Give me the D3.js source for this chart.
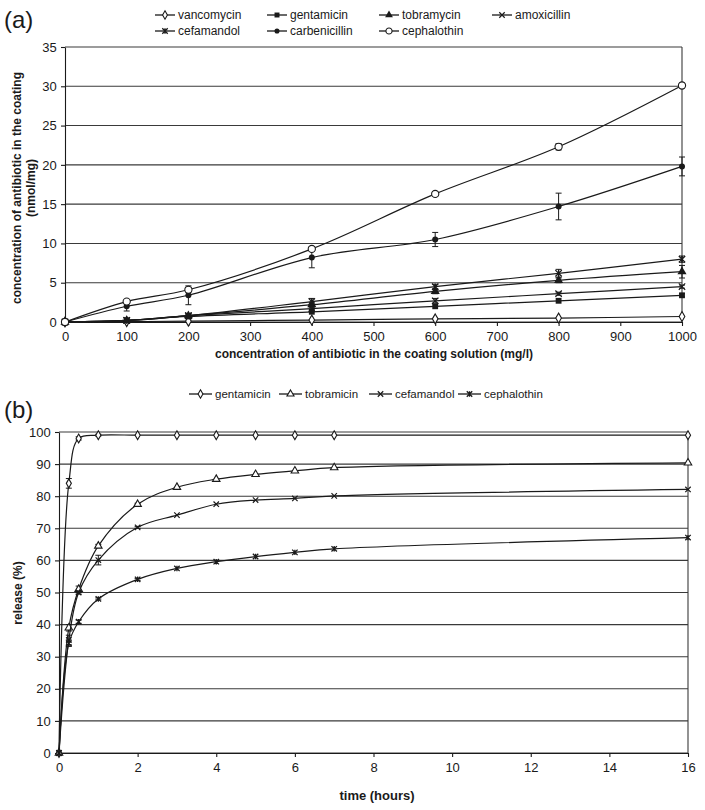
<!DOCTYPE html>
<html><head><meta charset="utf-8">
<script src="https://cdn.jsdelivr.net/npm/d3@7"></script>
<style>body{margin:0;background:#fff}svg{display:block}</style>
</head><body>
<svg id="c" width="705" height="810"></svg>
<script>
// ---------- Panel (a) data ----------
const concA = [0, 100, 200, 400, 600, 800, 1000];
const vancomycin   = [0, 0.05, 0.1, 0.25, 0.4, 0.5, 0.7];
const gentamicinA  = [0, 0.2, 0.7, 1.3, 2.0, 2.7, 3.4];
const tobramycinA  = [0, 0.2, 0.8, 2.2, 3.9, 5.3, 6.4];
const amoxicillin  = [0, 0.2, 0.8, 1.7, 2.7, 3.6, 4.5];
const cefamandolA  = [0, 0.2, 0.8, 2.6, 4.5, 6.2, 8.0];
const carbenicillin= [0, 2.0, 3.4, 8.2, 10.5, 14.7, 19.8];
const cephalothinA = [0, 2.6, 4.1, 9.3, 16.3, 22.3, 30.1];
const errVanco = [0, 0, 0, 0, 0.1, 0.1, 0.1];
const errGenta = [0, 0.05, 0.1, 0.1, 0.1, 0.15, 0.2];
const errTobra = [0, 0.1, 0.1, 0.3, 0.3, 0.3, 0.8];
const errAmoxi = [0, 0.05, 0.1, 0.2, 0.3, 0.2, 0.2];
const errCefaA = [0, 0.1, 0.2, 0.4, 0.3, 0.5, 0.4];
const errCarbe = [0, 0.6, 1.2, 1.3, 0.9, 1.7, 1.2];
const errCephA = [0, 0.2, 0.3, 0.3, 0.3, 0.4, 0.3];
const yTicksA = [0, 5, 10, 15, 20, 25, 30, 35];
const xTicksA = [0, 100, 200, 300, 400, 500, 600, 700, 800, 900, 1000];

// ---------- Panel (b) data ----------
const timeB = [0, 0.25, 0.5, 1, 2, 3, 4, 5, 6, 7, 16];
const gentamicinB = [0, 84, 98, 99, 99, 99, 99, 99, 99, 99, 99];
const tobramicinB = [0, 39, 51, 64.5, 77.5, 82.8, 85.3, 86.8, 87.9, 88.9, 90.4];
const cefamandolB = [0, 35.2, 50, 60.1, 70.3, 74.1, 77.5, 78.8, 79.3, 80.1, 82.1];
const cephalothinB= [0, 34.2, 40.9, 48, 54.1, 57.5, 59.6, 61.2, 62.5, 63.6, 67.1];
const errGentaB = [0, 1.5, 0.5, 0.3, 0, 0, 0, 0, 0, 0, 0];
const errTobraB = [0, 1, 1, 0.5, 0.3, 0, 0, 0, 0, 0, 0];
const errCefaB  = [0, 1.5, 0.5, 1.5, 0.3, 0, 0, 0, 0, 0, 0];
const errCephB  = [0, 1, 0.5, 0.3, 0.3, 0, 0, 0, 0, 0, 0];
const yTicksB = [0, 10, 20, 30, 40, 50, 60, 70, 80, 90, 100];
const xTicksB = [0, 2, 4, 6, 8, 10, 12, 14, 16];

const svg = d3.select("#c");
const INK = "#1a1a1a";
const tickFont = "'Liberation Sans Narrow','Arial Narrow','Liberation Sans',Arial,sans-serif";
const regFont = "'Liberation Sans',Arial,sans-serif";

function marker(g, type, x, y, s) {
  s = s || 1;
  const m = g.append("g").attr("transform", `translate(${x},${y})`);
  const r = 3.2 * s;
  switch (type) {
    case "diamondOpen":
      m.append("path").attr("d", d3.symbol(d3.symbolDiamond, 28 * s * s)()).attr("fill", "#fff").attr("stroke", INK).attr("stroke-width", 1.1); break;
    case "square":
      m.append("path").attr("d", d3.symbol(d3.symbolSquare, 34 * s * s)()).attr("fill", INK); break;
    case "triangle":
      m.append("path").attr("d", d3.symbol(d3.symbolTriangle, 36 * s * s)()).attr("fill", INK); break;
    case "triangleOpen":
      m.append("path").attr("d", d3.symbol(d3.symbolTriangle, 30 * s * s)()).attr("fill", "#fff").attr("stroke", INK).attr("stroke-width", 1.1); break;
    case "x":
      m.append("path").attr("d", `M${-r},${-r}L${r},${r}M${-r},${r}L${r},${-r}`).attr("stroke", INK).attr("stroke-width", 1.2).attr("fill", "none"); break;
    case "star":
      m.append("path").attr("d", `M${-r},${-r}L${r},${r}M${-r},${r}L${r},${-r}M0,${-r}L0,${r}`).attr("stroke", INK).attr("stroke-width", 1.3).attr("fill", "none"); break;
    case "circle":
      m.append("circle").attr("r", 3 * s).attr("fill", INK); break;
    case "circleOpen":
      m.append("circle").attr("r", 3.6 * s).attr("fill", "#fff").attr("stroke", INK).attr("stroke-width", 1.1); break;
  }
}

function drawPanel(cfg) {
  const { x, y, xTicks, yTicks, series, xt } = cfg;
  const g = svg.append("g");
  const [x0, x1] = x.range();
  const [y0, y1] = y.range();
  g.append("g").selectAll("line").data(yTicks).join("line")
    .attr("x1", x0).attr("x2", x1).attr("y1", d => y(d)).attr("y2", d => y(d))
    .attr("stroke", "#3a3a3a").attr("stroke-width", 1.1);
  g.append("line").attr("x1", x1).attr("x2", x1).attr("y1", y0).attr("y2", y1).attr("stroke", "#3a3a3a").attr("stroke-width", 1.1);
  const ax = g.append("g").attr("transform", `translate(0,${y0})`)
    .call(d3.axisBottom(x).tickValues(xTicks).tickSize(4).tickSizeOuter(0).tickFormat(d3.format("d")));
  const ay = g.append("g").attr("transform", `translate(${x0},0)`)
    .call(d3.axisLeft(y).tickValues(yTicks).tickSize(4).tickSizeOuter(0).tickFormat(d3.format("d")));
  [ax, ay].forEach(a => {
    a.selectAll("path,line").attr("stroke", INK).attr("stroke-width", 1.1);
    a.selectAll("text").attr("font-family", tickFont).attr("font-size", 13).attr("fill", INK);
  });
  ax.selectAll("text").attr("dy", "0.95em");
  ay.selectAll("text").attr("dx", "-0.1em");
  series.forEach(s => {
    const pts = xt.map((t, i) => [t, s.v[i], s.e ? s.e[i] : 0]);
    const line = d3.line().x(d => x(d[0])).y(d => y(d[1])).curve(d3.curveCatmullRom.alpha(0.5));
    g.append("path").attr("d", line(pts)).attr("fill", "none").attr("stroke", INK).attr("stroke-width", 1.2);
    pts.forEach(d => {
      if (d[2] > 0.15) {
        const px = x(d[0]), ya = y(d[1] - d[2]), yb = y(d[1] + d[2]);
        g.append("path").attr("d", `M${px},${ya}L${px},${yb}M${px - 3},${ya}L${px + 3},${ya}M${px - 3},${yb}L${px + 3},${yb}`)
          .attr("stroke", INK).attr("stroke-width", 1).attr("fill", "none");
      }
    });
    pts.forEach(d => marker(g, s.m, x(d[0]), y(d[1]), s.size));
  });
}

// Panel (a)
const xA = d3.scaleLinear().domain([0, 1000]).range([65, 682]);
const yA = d3.scaleLinear().domain([0, 35]).range([322, 47]);
const seriesA = [
  { name: "vancomycin", v: vancomycin, e: errVanco, m: "diamondOpen" },
  { name: "gentamicin", v: gentamicinA, e: errGenta, m: "square" },
  { name: "tobramycin", v: tobramycinA, e: errTobra, m: "triangle" },
  { name: "amoxicillin", v: amoxicillin, e: errAmoxi, m: "x" },
  { name: "cefamandol", v: cefamandolA, e: errCefaA, m: "star" },
  { name: "carbenicillin", v: carbenicillin, e: errCarbe, m: "circle" },
  { name: "cephalothin", v: cephalothinA, e: errCephA, m: "circleOpen" }
];
drawPanel({ x: xA, y: yA, xTicks: xTicksA, yTicks: yTicksA, series: seriesA, xt: concA });

// Panel (b)
const xB = d3.scaleLinear().domain([0, 16]).range([59, 688]);
const yB = d3.scaleLinear().domain([0, 100]).range([753, 432]);
const seriesB = [
  { name: "gentamicin", v: gentamicinB, e: errGentaB, m: "diamondOpen", size: 0.9 },
  { name: "tobramicin", v: tobramicinB, e: errTobraB, m: "triangleOpen", size: 0.9 },
  { name: "cefamandol", v: cefamandolB, e: errCefaB, m: "x", size: 0.85 },
  { name: "cephalothin", v: cephalothinB, e: errCephB, m: "star", size: 0.85 }
];
drawPanel({ x: xB, y: yB, xTicks: xTicksB, yTicks: yTicksB, series: seriesB, xt: timeB });

// Legends
function legendItem(x, y, s, lineLen, fs) {
  const g = svg.append("g");
  g.append("line").attr("x1", x).attr("x2", x + lineLen).attr("y1", y).attr("y2", y).attr("stroke", INK).attr("stroke-width", 1.3);
  marker(g, s.m, x + lineLen / 2, y, 0.85);
  g.append("text").attr("x", x + lineLen + 3).attr("y", y).attr("dy", "0.35em")
    .attr("font-family", regFont).attr("font-size", fs).attr("fill", INK).text(s.name);
}
const legAx = [155, 267, 379, 492];
seriesA.forEach((s, i) => {
  const row = i < 4 ? 0 : 1, col = i < 4 ? i : i - 4;
  legendItem(legAx[col], row === 0 ? 15 : 31, s, 20, 12);
});
const legBx = [189, 279, 369, 458];
seriesB.forEach((s, i) => legendItem(legBx[i], 394, s, 23, 11.5));

// Panel labels
svg.append("text").attr("x", 4).attr("y", 28).attr("font-family", regFont).attr("font-size", 24).attr("fill", INK).text("(a)");
svg.append("text").attr("x", 4).attr("y", 418).attr("font-family", regFont).attr("font-size", 24).attr("fill", INK).text("(b)");

// Axis titles
svg.append("text").attr("x", 374).attr("y", 358).attr("text-anchor", "middle")
  .attr("font-family", regFont).attr("font-weight", "bold").attr("font-size", 12).attr("fill", INK)
  .text("concentration of antibiotic in the coating solution (mg/l)");
const ytA = svg.append("text").attr("transform", "translate(21,188) rotate(-90)").attr("text-anchor", "middle")
  .attr("font-family", regFont).attr("font-weight", "bold").attr("font-size", 12).attr("fill", INK);
ytA.append("tspan").attr("x", 0).attr("dy", 0).text("concentration of antibiotic in the coating");
ytA.append("tspan").attr("x", 0).attr("dy", 14).text("(nmol/mg)");
svg.append("text").attr("x", 377).attr("y", 800).attr("text-anchor", "middle")
  .attr("font-family", regFont).attr("font-weight", "bold").attr("font-size", 13).attr("fill", INK)
  .text("time (hours)");
svg.append("text").attr("transform", "translate(22,593) rotate(-90)").attr("text-anchor", "middle")
  .attr("font-family", regFont).attr("font-weight", "bold").attr("font-size", 12).attr("fill", INK)
  .text("release (%)");
</script>
</body></html>
